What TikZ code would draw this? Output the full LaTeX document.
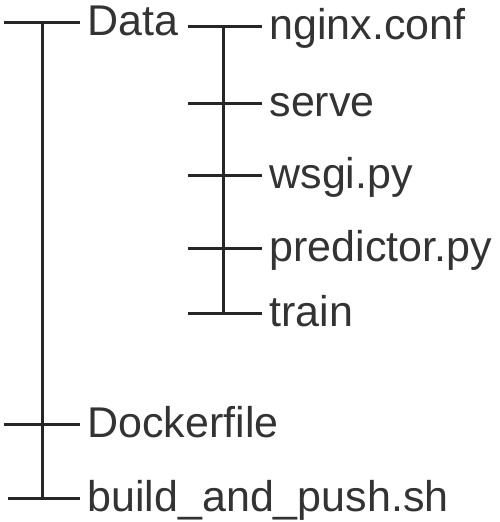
\documentclass[tikz,border=0pt]{standalone}
\usepackage{fontspec}
\setmainfont{Liberation Sans}
\begin{document}
\begin{tikzpicture}[x=1pt, y=-1pt, line width=3pt]
  \tikzstyle{file}=[anchor=west, inner xsep=6pt, inner ysep=0pt, text height=32pt, text depth=6pt, font=\fontsize{43}{50}\selectfont, text=black!80]
  \tikzstyle{branch}=[draw=black!85]
  \useasboundingbox (0,0) rectangle (500,522);
  % top level
  \node[file] (data) at (80,22) {Data};
  \node[file] (docker) at (80,424) {Dockerfile};
  \node[file] (build) at (80,498) {build\_and\_push.sh};
  % inside Data
  \node[file] (nginx) at (262,26) {nginx.conf};
  \node[file] (serve) at (262,103) {serve};
  \node[file] (wsgi) at (262,175) {wsgi.py};
  \node[file] (pred) at (262,248) {predictor.py};
  \node[file] (train) at (262,313) {train};
  \coordinate (top1) at (42,22);
  \coordinate (bot1) at (42,498);
  \coordinate (l1) at (4,22);
  \coordinate (l2) at (4,424);
  \coordinate (l3) at (8,498);
  \coordinate (top2) at (223,26);
  \coordinate (bot2) at (223,313);
  \coordinate (r1) at (188,26);
  \coordinate (r2) at (188,103);
  \coordinate (r3) at (188,175);
  \coordinate (r4) at (188,248);
  \coordinate (r5) at (188,313);
  \draw[branch] (top1) -- (bot1)
        (l1) -- (data.west)
        (l2) -- (docker.west)
        (l3) -- (build.west);
  \draw[branch] (top2) -- (bot2)
        (r1) -- (nginx.west)
        (r2) -- (serve.west)
        (r3) -- (wsgi.west)
        (r4) -- (pred.west)
        (r5) -- (train.west);
\end{tikzpicture}
\end{document}
